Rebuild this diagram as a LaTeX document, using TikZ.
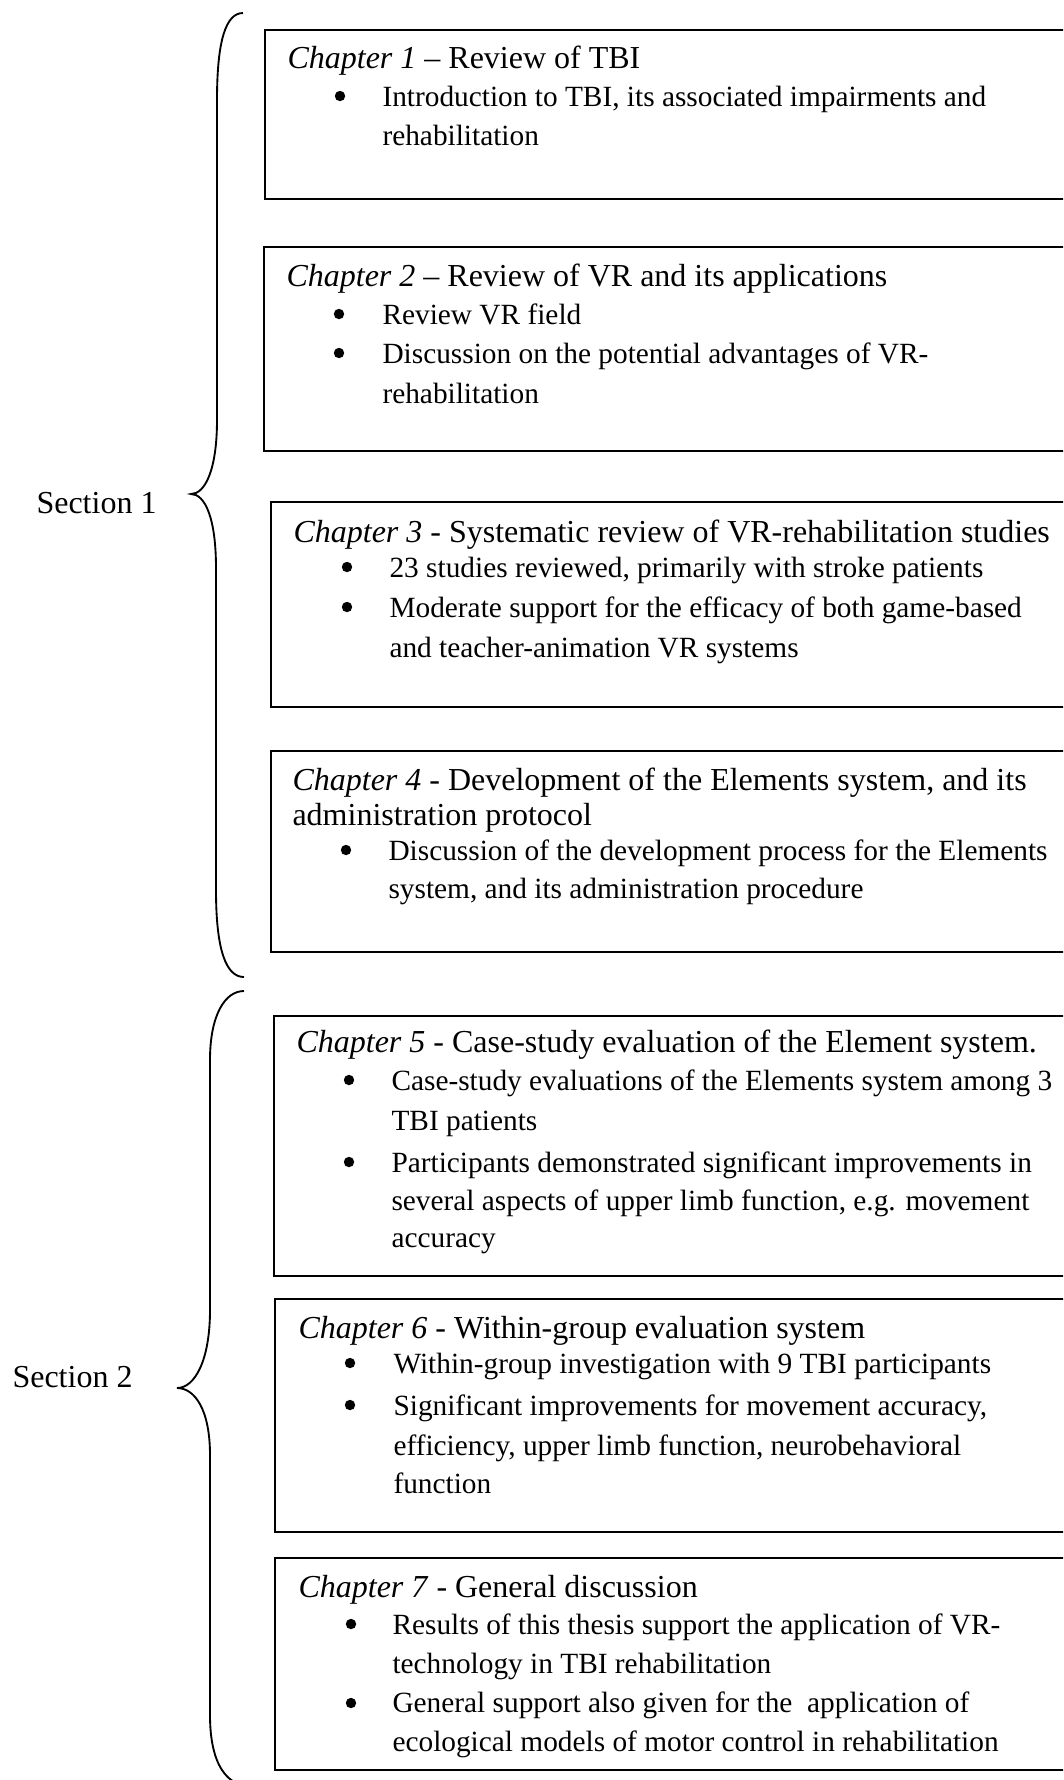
\documentclass[tikz,border=0pt]{standalone}
\usepackage{fontspec}
\setmainfont{Liberation Serif}
\usetikzlibrary{fit}
\tikzset{
  chapbox/.style={draw, line width=0.75pt, rectangle, inner sep=0pt},
  head/.style={anchor=base west, inner sep=0pt, font=\fontsize{12}{14}\selectfont},
  btext/.style={anchor=base west, inner sep=0pt, font=\fontsize{11}{13}\selectfont},
  bul/.style={circle, fill=black, draw=none, inner sep=0pt, minimum size=3.9pt},
  sec/.style={anchor=base west, inner sep=0pt, font=\fontsize{12}{14}\selectfont},
  bracepath/.style={line width=0.7pt},
}
\begin{document}
\begin{tikzpicture}[x=0.375pt, y=-0.375pt]
\useasboundingbox (0,0) rectangle (1063,1780);
\clip (0,0) rectangle (1063,1780);

% boxes
\node[chapbox, fit={(265,30) (1110,199)}] (box1) {};
\node[chapbox, fit={(264,247) (1110,451)}] (box2) {};
\node[chapbox, fit={(271,502) (1110,707)}] (box3) {};
\node[chapbox, fit={(271,751) (1110,952)}] (box4) {};
\node[chapbox, fit={(274,1016) (1110,1276)}] (box5) {};
\node[chapbox, fit={(275,1299) (1110,1532)}] (box6) {};
\node[chapbox, fit={(275,1558) (1110,1770)}] (box7) {};

% braces
\draw[bracepath] (243,13) .. controls (226,13) and (217,40) .. (217,100)
  -- (217,420) .. controls (217,470) and (205,494) .. (191,494)
  .. controls (205,494) and (216,518) .. (216,568)
  -- (216,890) .. controls (216,950) and (226,977) .. (244,977);
\draw[bracepath] (244,991) .. controls (225,991) and (210,1015) .. (210,1060)
  -- (210,1310) .. controls (210,1360) and (195,1388) .. (177,1388)
  .. controls (195,1388) and (210,1410) .. (210,1455)
  -- (210,1715) .. controls (210,1766) and (228,1786) .. (250,1786);

% section labels
\node[sec] (s1) at (36,513) {Section 1};
\node[sec] (s2) at (12,1387) {Section 2};

% box 1
\node[head] (h1) at (287,68) {\textit{Chapter 1} – Review of TBI};
\node[bul] (d1a) at (340,96) {};
\node[btext] (t1a) at (382,106) {Introduction to TBI, its associated impairments and};
\node[btext] (t1b) at (382,145) {rehabilitation};

% box 2
\node[head] (h2) at (286,286) {\textit{Chapter 2} – Review of VR and its applications};
\node[bul] (d2a) at (339,314) {};
\node[btext] (t2a) at (382,324) {Review VR field};
\node[bul] (d2b) at (339,353) {};
\node[btext] (t2b) at (382,363) {Discussion on the potential advantages of VR-};
\node[btext] (t2c) at (382,403) {rehabilitation};

% box 3
\node[head] (h3) at (293,542) {\textit{Chapter 3} - Systematic review of VR-rehabilitation studies};
\node[bul] (d3a) at (347,567) {};
\node[btext] (t3a) at (389,577) {23 studies reviewed, primarily with stroke patients};
\node[bul] (d3b) at (347,607) {};
\node[btext] (t3b) at (389,617) {Moderate support for the efficacy of both game-based};
\node[btext] (t3c) at (389,657) {and teacher-animation VR systems};

% box 4
\node[head] (h4) at (292,790) {\textit{Chapter 4} - Development of the Elements system, and its};
\node[head] (h4b) at (292,825) {administration protocol};
\node[bul] (d4a) at (346,850) {};
\node[btext] (t4a) at (388,860) {Discussion of the development process for the Elements};
\node[btext] (t4b) at (388,898) {system, and its administration procedure};

% box 5
\node[head] (h5) at (296,1052) {\textit{Chapter 5} - Case-study evaluation of the Element system.};
\node[bul] (d5a) at (349,1080) {};
\node[btext] (t5a) at (391,1090) {Case-study evaluations of the Elements system among 3};
\node[btext] (t5b) at (391,1130) {TBI patients};
\node[bul] (d5b) at (349,1162) {};
\node[btext] (t5c) at (391,1172) {Participants demonstrated significant improvements in};
\node[btext] (t5d) at (391,1210) {several aspects of upper limb function, e.g. movement};
\node[btext] (t5e) at (391,1247) {accuracy};

% box 6
\node[head] (h6) at (298,1338) {\textit{Chapter 6} - Within-group evaluation system};
\node[bul] (d6a) at (350,1363) {};
\node[btext] (t6a) at (393,1373) {Within-group investigation with 9 TBI participants};
\node[bul] (d6b) at (350,1405) {};
\node[btext] (t6b) at (393,1415) {Significant improvements for movement accuracy,};
\node[btext] (t6c) at (393,1455) {efficiency, upper limb function, neurobehavioral};
\node[btext] (t6d) at (393,1493) {function};

% box 7
\node[head] (h7) at (298,1597) {\textit{Chapter 7} - General discussion};
\node[bul] (d7a) at (351,1624) {};
\node[btext] (t7a) at (392,1634) {Results of this thesis support the application of VR-};
\node[btext] (t7b) at (392,1673) {technology in TBI rehabilitation};
\node[bul] (d7b) at (351,1703) {};
\node[btext] (t7c) at (392,1712) {General support also given for the\ \ application of};
\node[btext] (t7d) at (392,1751) {ecological models of motor control in rehabilitation};
\end{tikzpicture}
\end{document}
